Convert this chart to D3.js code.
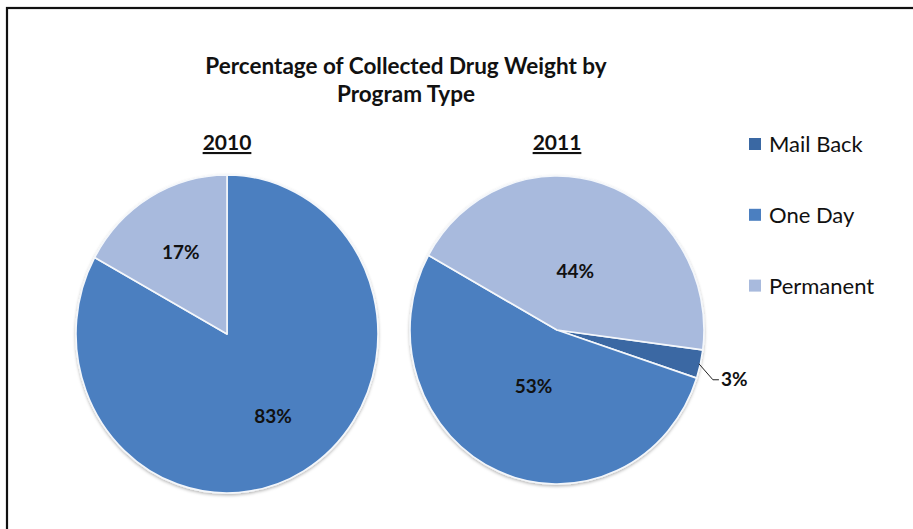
<!DOCTYPE html>
<html>
<head>
<meta charset="utf-8">
<script src="https://cdn.jsdelivr.net/npm/d3@7"></script>
<style>
  html, body { margin: 0; padding: 0; background: #fff; }
  svg { display: block; }
  text { font-family: Lato, "Open Sans", sans-serif; fill: #111; }
</style>
</head>
<body>
<svg id="chart" width="913" height="529"></svg>
<script>
// Program types (legend order) and share of collected drug weight, in %
const programs = ["Mail Back", "One Day", "Permanent"];
const years = ["2010", "2011"];
const share2010 = [0, 83, 17];
const share2011 = [3, 53, 44];
const titleLines = ["Percentage of Collected Drug Weight by", "Program Type"];

const colors = d3.scaleOrdinal()
  .domain(programs)
  .range(["#3a68a3", "#4b7fc0", "#a8badd"]);

const svg = d3.select("#chart");

// frame
svg.append("rect")
  .attr("x", 7).attr("y", 8)
  .attr("width", 1000).attr("height", 1000)
  .attr("fill", "none").attr("stroke", "#111").attr("stroke-width", 2.2);

// soft shadow under each pie
const defs = svg.append("defs");
const f = defs.append("filter").attr("id", "shadow")
  .attr("x", "-10%").attr("y", "-10%").attr("width", "120%").attr("height", "120%");
f.append("feDropShadow").attr("dx", 0).attr("dy", 1.5)
  .attr("stdDeviation", 1.6).attr("flood-color", "#000").attr("flood-opacity", 0.28);

// title
svg.append("text")
  .attr("x", 406).attr("y", 74)
  .attr("text-anchor", "middle")
  .style("font-size", "22.5px").style("font-weight", 700)
  .selectAll("tspan").data(titleLines).join("tspan")
  .attr("x", 406).attr("dy", (d, i) => i === 0 ? 0 : 28)
  .text(d => d);

// layout per pie
const pies = [
  { year: years[0], values: share2010, cx: 227, cy: 334, rx: 151, ry: 159, start: 0, labelFrac: 0.6 },
  { year: years[1], values: share2011, cx: 557, cy: 330, rx: 147, ry: 154, start: 97.4, labelFrac: 0.4 }
];

pies.forEach(p => {
  const data = programs.map((name, i) => ({ name, value: p.values[i] }));
  const pie = d3.pie().sort(null).value(d => d.value)
    .startAngle(p.start * Math.PI / 180)
    .endAngle((p.start + 360) * Math.PI / 180);
  const arcs = pie(data).filter(d => d.data.value > 0);
  const arc = d3.arc().innerRadius(0).outerRadius(p.rx);
  const sy = p.ry / p.rx;

  // year heading, underlined
  svg.append("text")
    .attr("x", p.cx).attr("y", 150)
    .attr("text-anchor", "middle")
    .style("font-size", "21px").style("font-weight", 700)
    .style("text-decoration", "underline")
    .text(p.year);

  const g = svg.append("g")
    .attr("transform", `translate(${p.cx},${p.cy}) scale(1,${sy})`);

  g.append("g").attr("filter", "url(#shadow)")
    .selectAll("path").data(arcs).join("path")
    .attr("d", arc)
    .attr("fill", d => colors(d.data.name))
    .attr("stroke", "#f4f7fb").attr("stroke-width", 1.6)
    .attr("stroke-linejoin", "round");

  const pt = (angle, r) => [p.cx + r * Math.sin(angle), p.cy - r * sy * Math.cos(angle)];

  arcs.forEach(d => {
    const mid = (d.startAngle + d.endAngle) / 2;
    const label = Math.round(d.data.value) + "%";
    if (d.data.value >= 10) {
      const [x, y] = pt(mid, p.rx * p.labelFrac);
      svg.append("text")
        .attr("x", x).attr("y", y).attr("dy", "0.35em")
        .attr("text-anchor", "middle")
        .style("font-size", "19px").style("font-weight", 700)
        .text(label);
    } else {
      // small slice: label outside with a leader line
      const [x0, y0] = pt(mid, p.rx * 0.99);
      const x1 = x0 + 14, y1 = y0 + 16;
      svg.append("path")
        .attr("d", `M${x0},${y0}L${x1},${y1}L${x1 + 6},${y1}`)
        .attr("fill", "none").attr("stroke", "#222").attr("stroke-width", 1);
      svg.append("text")
        .attr("x", x1 + 8).attr("y", y1).attr("dy", "0.35em")
        .style("font-size", "19px").style("font-weight", 700)
        .text(label);
    }
  });
});

// legend
const legend = svg.append("g").attr("transform", "translate(749,144)");
const items = legend.selectAll("g").data(programs).join("g")
  .attr("transform", (d, i) => `translate(0,${i * 70.8})`);
items.append("rect")
  .attr("x", 0).attr("y", -6).attr("width", 12).attr("height", 12)
  .attr("fill", d => colors(d));
items.append("text")
  .attr("x", 20).attr("y", 0).attr("dy", "0.36em")
  .style("font-size", "22px")
  .text(d => d);
</script>
</body>
</html>
